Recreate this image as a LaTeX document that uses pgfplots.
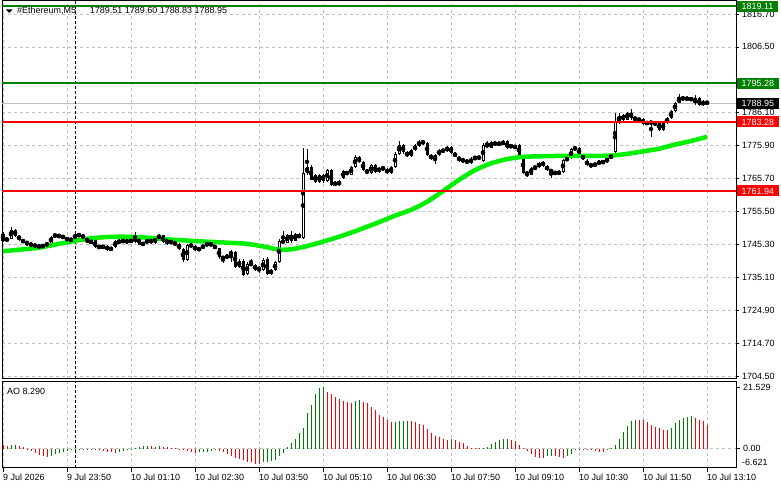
\documentclass[border=0pt]{standalone}
\usepackage{pgfplots}
\pgfplotsset{compat=1.18}
\usepackage{pgfplotstable}
\usepackage{fontspec}
\setmainfont{Liberation Sans}
\definecolor{mtgreen}{RGB}{0,128,0}
\definecolor{mtred}{RGB}{255,0,0}
\definecolor{malime}{RGB}{0,240,0}
\definecolor{gridgray}{RGB}{192,192,192}
\definecolor{bidgray}{RGB}{192,192,192}
\newcommand{\mtfont}{\fontsize{9}{10}\selectfont}
\pgfplotstableread{
i o h l c
0 1748.6 1749.3 1746.2 1746.6
1 1746.6 1747.6 1746.3 1747.2
2 1747.2 1750.8 1747.0 1750.0
3 1750.0 1750.3 1747.8 1748.1
4 1748.1 1748.3 1746.6 1746.9
5 1746.9 1747.2 1745.8 1746.0
6 1746.0 1746.6 1745.3 1745.5
7 1745.5 1746.0 1744.9 1745.2
8 1745.2 1745.6 1744.6 1744.9
9 1744.9 1745.3 1744.4 1744.6
10 1744.7 1745.5 1744.3 1745.2
11 1745.2 1746.0 1745.0 1745.7
12 1745.7 1748.1 1745.5 1747.8
13 1747.8 1749.0 1747.5 1748.4
14 1747.8 1748.6 1747.6 1748.2
15 1748.2 1748.4 1747.1 1747.3
16 1747.3 1747.6 1746.6 1746.9
17 1746.7 1747.3 1746.5 1747.0
18 1747.1 1749.0 1746.9 1748.6
19 1748.0 1748.8 1747.8 1748.6
20 1748.2 1748.4 1747.4 1747.6
21 1747.6 1747.8 1745.8 1746.0
22 1745.7 1746.9 1745.5 1746.7
23 1746.7 1746.9 1744.3 1744.6
24 1744.4 1745.2 1744.2 1744.8
25 1744.9 1745.0 1744.3 1744.5
26 1744.9 1745.1 1743.5 1743.8
27 1743.8 1744.5 1743.6 1744.3
28 1744.5 1746.7 1744.3 1746.4
29 1745.9 1746.9 1745.8 1746.5
30 1746.3 1746.8 1746.1 1746.7
31 1746.0 1746.9 1745.9 1746.7
32 1746.3 1746.8 1746.2 1746.7
33 1746.2 1749.3 1746.0 1747.6
34 1747.6 1747.9 1745.2 1745.4
35 1745.4 1746.2 1744.9 1745.8
36 1745.8 1747.2 1745.6 1746.9
37 1746.9 1747.2 1745.6 1745.9
38 1745.9 1747.6 1745.7 1747.4
39 1747.4 1748.5 1747.1 1748.2
40 1748.2 1748.4 1745.9 1746.2
41 1746.2 1746.9 1745.4 1746.5
42 1746.5 1746.7 1745.6 1745.8
43 1745.9 1746.0 1745.3 1745.5
44 1745.5 1745.8 1743.8 1744.1
45 1744.1 1744.3 1739.9 1740.6
46 1740.6 1745.5 1740.3 1745.2
47 1745.3 1745.5 1744.7 1744.9
48 1745.0 1745.1 1743.3 1743.6
49 1743.6 1744.6 1743.3 1744.3
50 1744.3 1745.4 1744.1 1745.1
51 1745.1 1746.1 1744.9 1745.8
52 1745.8 1746.0 1744.9 1745.1
53 1745.1 1745.3 1743.9 1744.2
54 1744.2 1744.3 1741.0 1741.4
55 1741.5 1741.8 1739.6 1741.1
56 1741.1 1742.6 1740.8 1742.2
57 1742.2 1743.6 1739.9 1743.2
58 1743.2 1743.5 1738.2 1738.5
59 1738.5 1740.8 1738.2 1740.4
60 1740.4 1740.8 1735.6 1736.0
61 1736.3 1739.9 1736.0 1739.5
62 1739.6 1741.0 1738.9 1739.1
63 1739.1 1739.4 1737.2 1737.6
64 1737.3 1738.8 1736.5 1738.5
65 1737.5 1741.2 1737.2 1740.6
66 1740.9 1741.4 1735.9 1736.3
67 1736.4 1737.8 1736.1 1737.4
68 1737.4 1740.3 1737.2 1739.9
69 1739.9 1747.2 1739.6 1746.5
70 1745.9 1749.6 1745.6 1746.7
71 1746.0 1748.6 1745.8 1748.3
72 1748.3 1749.6 1746.0 1746.6
73 1746.6 1748.9 1746.4 1748.6
74 1747.6 1748.8 1747.3 1748.4
75 1747.4 1775.3 1747.1 1767.5
76 1767.5 1774.9 1767.0 1769.4
77 1769.4 1769.9 1765.2 1765.5
78 1766.9 1767.3 1764.4 1764.8
79 1764.8 1767.2 1764.5 1766.9
80 1766.9 1767.2 1764.5 1765.0
81 1765.0 1768.8 1764.8 1768.4
82 1768.4 1768.7 1763.5 1763.8
83 1764.6 1765.0 1763.4 1763.8
84 1763.8 1765.2 1763.6 1764.9
85 1766.0 1768.4 1765.7 1768.0
86 1768.0 1768.2 1766.8 1767.0
87 1767.0 1769.7 1766.8 1769.4
88 1769.4 1773.0 1769.1 1772.5
89 1772.5 1772.8 1770.5 1770.9
90 1770.9 1771.2 1768.1 1768.4
91 1768.4 1768.8 1767.2 1767.5
92 1767.5 1770.4 1767.2 1769.9
93 1769.9 1770.2 1767.5 1767.8
94 1767.8 1769.5 1767.5 1769.2
95 1769.2 1769.6 1768.4 1768.7
96 1768.7 1769.0 1767.2 1767.5
97 1767.5 1769.6 1767.3 1769.3
98 1769.3 1773.9 1769.1 1773.5
99 1773.5 1777.4 1773.2 1776.2
100 1776.2 1776.5 1773.5 1773.9
101 1773.9 1774.3 1772.4 1772.7
102 1772.7 1775.0 1772.5 1774.6
103 1774.6 1776.5 1774.4 1776.0
104 1776.0 1777.8 1775.7 1777.2
105 1777.2 1777.5 1776.4 1776.8
106 1776.8 1777.1 1772.9 1773.2
107 1773.2 1773.4 1771.5 1771.8
108 1771.6 1773.3 1770.3 1773.0
109 1773.1 1775.0 1772.8 1774.6
110 1774.6 1774.9 1773.9 1774.2
111 1774.2 1776.0 1774.0 1775.6
112 1775.6 1775.9 1773.4 1773.8
113 1773.8 1774.0 1772.3 1772.6
114 1772.6 1772.9 1770.9 1771.2
115 1771.2 1772.0 1770.9 1771.6
116 1771.5 1771.7 1770.3 1770.6
117 1770.6 1772.4 1770.4 1772.0
118 1772.0 1772.6 1771.5 1772.4
119 1771.9 1772.9 1771.7 1772.6
120 1771.3 1776.8 1771.0 1776.2
121 1776.5 1777.4 1775.3 1775.6
122 1775.3 1777.4 1775.1 1777.1
123 1776.8 1777.0 1776.2 1776.4
124 1776.4 1776.9 1776.1 1776.8
125 1776.3 1777.6 1776.1 1777.3
126 1777.3 1777.6 1774.8 1775.2
127 1775.6 1776.3 1775.4 1776.0
128 1775.8 1776.0 1775.1 1775.4
129 1776.2 1776.5 1772.8 1773.1
130 1772.5 1772.8 1767.2 1767.5
131 1767.6 1768.0 1766.2 1767.1
132 1767.0 1769.4 1766.8 1769.0
133 1769.0 1769.6 1768.5 1769.4
134 1769.3 1771.0 1769.0 1770.6
135 1771.0 1771.3 1769.4 1769.7
136 1769.7 1770.0 1768.1 1768.4
137 1768.4 1768.6 1766.0 1767.9
138 1767.8 1768.0 1767.0 1767.3
139 1767.3 1768.3 1766.8 1767.9
140 1767.9 1771.8 1767.6 1771.5
141 1771.5 1772.5 1771.2 1772.1
142 1772.1 1775.2 1771.9 1774.9
143 1774.9 1775.8 1774.5 1775.3
144 1775.3 1775.5 1772.8 1773.1
145 1773.1 1773.3 1771.4 1771.7
146 1771.2 1771.7 1769.7 1770.0
147 1770.1 1770.3 1769.4 1769.7
148 1769.8 1770.6 1769.6 1770.3
149 1770.3 1771.5 1770.0 1771.1
150 1771.1 1771.4 1770.4 1770.7
151 1770.8 1772.4 1770.6 1772.1
152 1772.1 1773.5 1771.8 1772.9
153 1773.9 1786.1 1773.6 1783.3
154 1783.3 1786.1 1782.8 1785.0
155 1784.0 1785.7 1783.6 1785.3
156 1784.0 1786.4 1783.8 1786.1
157 1786.1 1787.2 1783.9 1784.5
158 1784.5 1784.9 1783.8 1784.1
159 1784.2 1784.5 1783.6 1783.8
160 1784.2 1784.5 1782.4 1782.7
161 1782.7 1783.6 1782.4 1783.2
162 1783.3 1783.5 1778.7 1782.9
163 1782.6 1783.4 1782.3 1783.0
164 1783.1 1783.4 1780.5 1780.8
165 1780.8 1783.4 1780.5 1783.1
166 1783.0 1784.8 1782.8 1784.5
167 1784.5 1787.0 1784.3 1786.7
168 1786.7 1789.5 1786.5 1789.2
169 1789.2 1792.0 1789.0 1790.7
170 1790.8 1791.2 1790.0 1790.4
171 1790.3 1791.0 1789.9 1790.7
172 1790.6 1790.9 1789.8 1790.2
173 1790.5 1791.7 1788.6 1789.1
174 1790.7 1791.0 1788.2 1788.5
175 1788.5 1790.1 1788.3 1789.6
176 1789.51 1789.60 1788.83 1788.95
}\candles
\pgfplotstableread{
i m
0 1743.3
5 1743.9
9 1744.4
14 1745.6
18 1746.5
22 1747.3
26 1747.7
30 1747.8
35 1747.6
41 1747.0
49 1746.4
57 1745.9
61 1745.6
65 1744.8
69 1743.8
72 1743.9
75 1744.6
79 1745.9
83 1747.4
86 1748.6
90 1750.4
94 1752.3
98 1754.3
102 1756.1
106 1758.6
110 1761.9
114 1765.4
118 1768.4
122 1770.5
126 1771.8
130 1772.5
135 1772.7
140 1772.8
146 1772.8
152 1772.9
156 1773.4
160 1774.2
164 1775.0
168 1776.3
172 1777.4
176 1778.7
}\matab
\pgfplotstableread{
i ao g
0 1.2 0
1 0.9 0
2 1.1 1
3 1.2 1
4 0.8 0
5 0.4 0
6 -0.2 0
7 -0.8 0
8 -1.6 0
9 -2.3 0
10 -2.7 0
11 -2.9 0
12 -2.6 1
13 -2.0 1
14 -1.5 1
15 -1.1 1
16 -0.8 1
17 -0.5 1
18 -0.4 1
19 -0.3 1
20 -0.2 1
21 -0.3 0
22 -0.2 1
23 -0.1 1
24 -0.5 0
25 -0.8 0
26 -1.1 0
27 -1.4 0
28 -1.5 0
29 -1.3 1
30 -1.0 1
31 -0.6 1
32 -0.3 1
33 0.1 1
34 0.5 1
35 0.8 1
36 1.0 1
37 0.8 0
38 0.7 0
39 0.75 1
40 0.5 0
41 0.4 0
42 0.2 0
43 0.1 0
44 -0.2 0
45 -0.5 0
46 -1.0 0
47 -1.4 0
48 -1.6 0
49 -1.4 1
50 -1.2 1
51 -1.1 1
52 -0.9 1
53 -0.7 1
54 -0.8 0
55 -1.2 0
56 -1.8 0
57 -2.6 0
58 -3.3 0
59 -3.8 0
60 -4.2 0
61 -4.6 0
62 -4.9 0
63 -5.3 0
64 -5.6 0
65 -4.8 1
66 -4.6 1
67 -4.3 1
68 -3.9 1
69 -2.7 1
70 -1.5 1
71 0.5 1
72 2.0 1
73 3.5 1
74 5.3 1
75 7.3 1
76 12.4 1
77 15.3 1
78 19.4 1
79 21.2 1
80 21.529 1
81 20.0 0
82 19.2 0
83 18.2 0
84 17.4 0
85 16.8 0
86 16.5 0
87 16.2 0
88 16.8 1
89 17.0 1
90 16.5 0
91 15.9 0
92 14.7 0
93 13.5 0
94 11.8 0
95 11.2 0
96 10.0 0
97 9.4 0
98 9.5 1
99 9.6 1
100 9.7 1
101 9.8 1
102 9.7 0
103 9.4 0
104 8.8 0
105 8.2 0
106 6.8 0
107 5.5 0
108 4.5 0
109 4.1 0
110 3.3 0
111 2.9 0
112 3.2 1
113 3.1 0
114 2.4 0
115 2.0 0
116 0.9 0
117 0.2 0
118 0.1 0
119 0.05 0
120 0.2 1
121 0.6 1
122 1.5 1
123 2.4 1
124 2.9 1
125 3.3 1
126 3.4 1
127 2.9 0
128 2.6 0
129 1.2 0
130 0.35 0
131 -0.9 0
132 -1.8 0
133 -2.9 0
134 -3.3 0
135 -3.4 0
136 -2.7 1
137 -2.6 1
138 -2.7 0
139 -3.0 0
140 -3.2 0
141 -2.7 1
142 -1.8 1
143 -0.6 1
144 -0.1 1
145 -0.2 0
146 -0.3 0
147 -0.4 0
148 -0.9 0
149 -1.1 0
150 -1.15 0
151 -0.6 1
152 0.2 1
153 1.2 1
154 3.5 1
155 5.9 1
156 7.9 1
157 9.8 1
158 10.2 1
159 10.0 0
160 9.9 0
161 9.4 0
162 8.2 0
163 7.6 0
164 7.1 0
165 6.7 0
166 6.5 0
167 7.4 1
168 9.1 1
169 10.0 1
170 10.6 1
171 11.2 1
172 11.4 1
173 10.9 0
174 10.0 0
175 9.6 0
176 8.29 0
}\aotab
\begin{document}
\begin{tikzpicture}
\useasboundingbox (0,0) rectangle (781bp,489bp);
\tikzset{lvlbox/.style={font=\mtfont, text=white, anchor=west, xshift=1bp, inner xsep=4.5bp, inner ysep=0pt, minimum height=11bp}}
\pgfplotsset{
  mtbase/.style={
    scale only axis, width=734bp, xmin=-0.25, xmax=183.25, clip=false,
    axis line style={black, line width=1bp},
    grid style={gridgray, dash pattern=on 3bp off 3bp, line width=0.8bp},
    tick style={black, line width=0.8bp},
    tick align=outside, major tick length=3bp,
    ytick pos=right,
    ticklabel style={font=\mtfont},
    xtick={0,16,...,176},
    xmajorgrids, ymajorgrids,
    yticklabel style={anchor=west, inner sep=0pt, xshift=3bp},
  },
  wick/.style={only marks, mark=none, error bars/.cd, y dir=both, y explicit, error mark=none, error bar style={black, line width=1bp}},
  body/.style={only marks, mark=none, error bars/.cd, y dir=both, y explicit, error mark=none, error bar style={black, line width=3bp}},
  hollow/.style={only marks, mark=none, error bars/.cd, y dir=both, y explicit, error mark=none, error bar style={white, line width=1bp}},
}
% main price panel
\begin{axis}[mtbase, at={(2bp,110bp)}, anchor=south west, height=378bp,
  ymin=1703.8, ymax=1820.7,
  ytick={1704.5,1714.7,1724.9,1735.1,1745.3,1755.5,1765.7,1775.9,1786.1,1806.5,1816.7},
  yticklabels={1704.50,1714.70,1724.90,1735.10,1745.30,1755.50,1765.70,1775.90,1786.10,1806.50,1816.70},
  xticklabels={}, xtick style={draw=none}]
\addplot[bidgray, line width=0.8bp] coordinates {(-0.25,1788.95) (183.25,1788.95)};
\addplot[black, dash pattern=on 3bp off 2bp, line width=1bp] coordinates {(18,1703.8) (18,1820.7)};
\addplot[wick] table[x=i, y expr={(\thisrow{h}+\thisrow{l})/2}, y error expr={(\thisrow{h}-\thisrow{l})/2}] {\candles};
\addplot[body] table[x=i, y expr={(\thisrow{o}+\thisrow{c})/2}, y error expr={max(abs(\thisrow{o}-\thisrow{c})/2,0.16)}] {\candles};
\addplot[hollow] table[x=i, y expr={(\thisrow{o}+\thisrow{c})/2}, y error expr={(\thisrow{c}>\thisrow{o})*max(abs(\thisrow{o}-\thisrow{c})/2-0.31,0)}] {\candles};
\addplot[malime, line width=4.5bp, mark=none, smooth, tension=0.4] table[x=i, y=m] {\matab};
\end{axis}
% overlay: horizontal levels with boxes
\begin{axis}[scale only axis, width=734bp, height=378bp, at={(2bp,110bp)}, anchor=south west,
  xmin=-0.25, xmax=183.25, ymin=1703.8, ymax=1820.7, hide axis, clip=false]
\addplot[mtgreen, line width=2bp] coordinates {(-0.25,1819.11) (183.25,1819.11)};
\addplot[mtgreen, line width=2bp] coordinates {(-0.25,1795.28) (183.25,1795.28)};
\addplot[mtred, line width=2bp] coordinates {(-0.25,1783.28) (183.25,1783.28)};
\addplot[mtred, line width=2bp] coordinates {(-0.25,1761.94) (183.25,1761.94)};
\node[lvlbox, fill=mtgreen] at (axis cs:183.25,1819.11) {1819.11};
\node[lvlbox, fill=mtgreen] at (axis cs:183.25,1795.28) {1795.28};
\node[lvlbox, fill=mtred] at (axis cs:183.25,1783.28) {1783.28};
\node[lvlbox, fill=mtred] at (axis cs:183.25,1761.94) {1761.94};
\node[lvlbox, fill=black] at (axis cs:183.25,1788.95) {1788.95};
\end{axis}
% AO panel
\begin{axis}[mtbase, at={(2bp,21bp)}, anchor=south west, height=86bp,
  ymin=-6.88, ymax=23.47,
  ytick={0}, yticklabels={0.00},
  extra y ticks={21.529}, extra y tick labels={21.529}, extra y tick style={grid=none},
  xtick pos=left, major tick length=4bp,
  xticklabels={9 Jul 2026,9 Jul 23:50,10 Jul 01:10,10 Jul 02:30,10 Jul 03:50,10 Jul 05:10,10 Jul 06:30,10 Jul 07:50,10 Jul 09:10,10 Jul 10:30,10 Jul 11:50,10 Jul 13:10},
  xticklabel style={anchor=north west, inner sep=0pt, xshift=0bp, yshift=-2bp}]
\addplot[black, dash pattern=on 3bp off 2bp, line width=1bp] coordinates {(18,-6.88) (18,23.47)};
\addplot[ycomb, mtgreen, line width=1bp, mark=none, restrict expr to domain={\thisrow{g}}{0.5:1.5}] table[x=i, y=ao] {\aotab};
\addplot[ycomb, mtred, line width=1bp, mark=none, restrict expr to domain={\thisrow{g}}{-0.5:0.5}] table[x=i, y=ao] {\aotab};
\node[font=\mtfont, anchor=west, inner sep=0pt] at (rel axis cs:0,1) [xshift=5bp, yshift=-9bp] {AO 8.290};
\node[font=\mtfont, anchor=west, inner sep=0pt] at (rel axis cs:1,0) [xshift=6bp, yshift=6bp] {-6.621};
\end{axis}
% title
\fill[black] (6bp,479.5bp) -- (12.5bp,479.5bp) -- (9.25bp,476bp) -- cycle;
\node[font=\mtfont, anchor=west, inner sep=0pt] at (17bp,478bp) {\#Ethereum,M5\hspace{14bp}1789.51 1789.60 1788.83 1788.95};
\end{tikzpicture}
\end{document}
